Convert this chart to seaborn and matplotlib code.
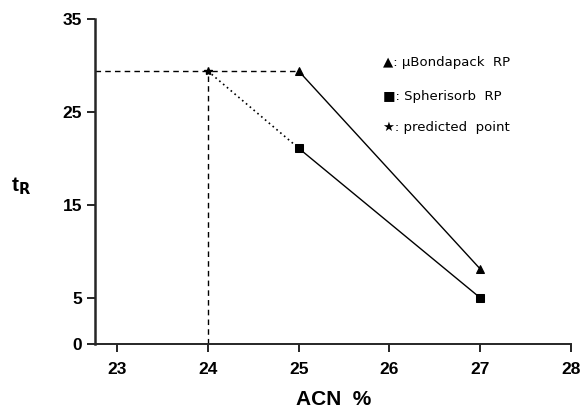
import matplotlib
matplotlib.use('Agg')
import seaborn as sns
import pandas as pd
import matplotlib.pyplot as plt

# data
acn = [25, 27]
bondapack = [29.4, 8.1]
spherisorb = [21.1, 5.0]
predicted_x = 24
predicted_y = 29.4
x_ticks = [23, 24, 25, 26, 27, 28]
y_ticks = [0, 5, 15, 25, 35]
legend_labels = ["\u25b2: \u03bcBondapack  RP", "\u25a0: Spherisorb  RP", "\u2605: predicted  point"]


def main():
    sns.set_style("ticks")
    plt.rcParams['font.family'] = ['Liberation Sans', 'DejaVu Sans']
    plt.rcParams['text.color'] = 'black'
    plt.rcParams['axes.labelcolor'] = 'black'
    plt.rcParams['xtick.color'] = 'black'
    plt.rcParams['ytick.color'] = 'black'

    df = pd.DataFrame({"ACN": acn + acn,
                       "tR": bondapack + spherisorb,
                       "column": ["bondapack"] * 2 + ["spherisorb"] * 2})

    fig = plt.figure(figsize=(5.84, 4.12), dpi=100)
    ax = fig.add_axes([0.163, 0.164, 0.815, 0.790])

    # solid lines with markers
    sns.lineplot(data=df[df["column"] == "bondapack"], x="ACN", y="tR", color="black",
                 linewidth=1.0, marker="^", markersize=6, markeredgecolor="black", ax=ax)
    sns.lineplot(data=df[df["column"] == "spherisorb"], x="ACN", y="tR", color="black",
                 linewidth=1.0, marker="s", markersize=6, markeredgecolor="black", ax=ax)

    # dashed guide lines to the predicted point
    ax.plot([22.76, acn[0]], [predicted_y, bondapack[0]], color="black",
            linestyle=(0, (4, 3)), linewidth=1.0)
    ax.plot([predicted_x, predicted_x], [0, predicted_y], color="black",
            linestyle=(0, (4, 3)), linewidth=1.0)
    # dotted line to the spherisorb point
    ax.plot([predicted_x, acn[0]], [predicted_y, spherisorb[0]], color="black",
            linestyle=(0, (1, 2)), linewidth=1.2)
    ax.plot([predicted_x], [predicted_y], marker="*", color="black", markersize=6)

    ax.set_xlim(22.76, 28)
    ax.set_ylim(0, 35)
    ax.set_xticks(x_ticks)
    ax.set_yticks(y_ticks)
    ax.tick_params(labelsize=12.5, width=1.2, length=6, color="black")
    ax.tick_params(axis="x", pad=7)
    for lab in ax.get_xticklabels() + ax.get_yticklabels():
        lab.set_fontweight("bold")

    for s in ["top", "right"]:
        ax.spines[s].set_visible(False)
    ax.spines["left"].set_linewidth(1.8)
    ax.spines["bottom"].set_linewidth(1.4)

    ax.set_xlabel("ACN  %", fontsize=15, fontweight="bold", labelpad=9)
    ax.set_ylabel("")
    fig.text(0.036, 0.548, "t$_\\mathbf{R}$", fontsize=15, fontweight="bold",
             ha="center", va="center")

    # legend as text
    for i, yy in enumerate([0.865, 0.763, 0.665]):
        ax.text(0.605, yy, legend_labels[i], transform=ax.transAxes, fontsize=9.5,
                ha="left", va="center", family=['DejaVu Sans'])

    fig.savefig("out.png", dpi=100)


main()
